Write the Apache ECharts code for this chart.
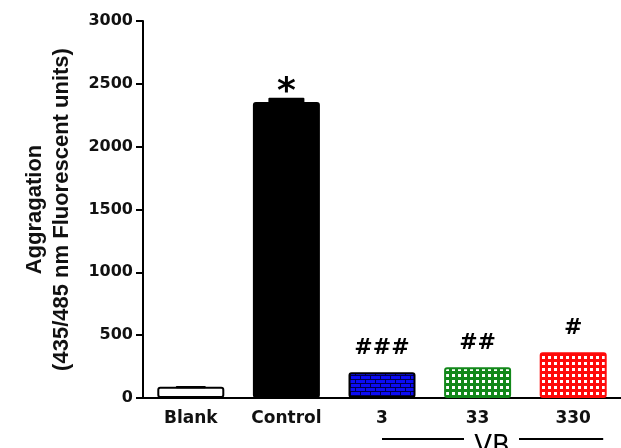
<!DOCTYPE html>
<html>
<head>
<meta charset="utf-8">
<script src="https://cdn.jsdelivr.net/npm/echarts@6/dist/echarts.min.js"></script>
<style>
html,body{margin:0;padding:0;background:#fff;}
#chart{width:621px;height:448px;}
</style>
</head>
<body>
<div id="chart"></div>
<script>
// ---- data ----
var categories = ['Blank', 'Control', '3', '33', '330'];
var values = [90, 2355, 204, 244, 364];
var errorTop = [103, 2390, 204, 244, 364];
var annotations = ['', '*', '###', '##', '#'];
var yTicks = [0, 500, 1000, 1500, 2000, 2500, 3000];
var groupLabel = 'VB';

// ---- patterns ----
function brick() {
  var c = document.createElement('canvas'); c.width = 10; c.height = 8;
  var g = c.getContext('2d');
  g.fillStyle = '#0c0cf5'; g.fillRect(0, 0, 10, 8);
  g.fillStyle = '#00004a';
  g.fillRect(0, 3, 10, 1); g.fillRect(0, 7, 10, 1);
  g.fillRect(0, 0, 1, 3); g.fillRect(5, 4, 1, 3);
  return c;
}
function checker(col) {
  var c = document.createElement('canvas'); c.width = 6; c.height = 6;
  var g = c.getContext('2d');
  g.fillStyle = col; g.fillRect(0, 0, 6, 6);
  g.fillStyle = '#ffffff'; g.fillRect(2, 2, 3, 3);
  return c;
}
var styles = [
  {color: '#ffffff', borderColor: '#000000', borderWidth: 2},
  {color: '#000000', borderColor: '#000000', borderWidth: 2},
  {color: {image: brick(), repeat: 'repeat'}, borderColor: '#000000', borderWidth: 2},
  {color: {image: checker('#12881a'), repeat: 'repeat'}, borderColor: '#12881a', borderWidth: 2},
  {color: {image: checker('#ff0a0a'), repeat: 'repeat'}, borderColor: '#ff0a0a', borderWidth: 2}
];

var chart = echarts.init(document.getElementById('chart'));
var tickFont = 'DejaVu Sans';
chart.setOption({
  animation: false,
  backgroundColor: '#ffffff',
  grid: {left: 143, top: 21, width: 483, bottom: 50},
  xAxis: {
    type: 'category', data: categories,
    axisLine: {lineStyle: {color: '#000', width: 2}},
    axisTick: {alignWithLabel: true, length: 6, lineStyle: {color: '#000', width: 2}},
    axisLabel: {color: '#111', fontFamily: tickFont, fontWeight: 'bold', fontSize: 17, margin: 12}
  },
  yAxis: {
    type: 'value', min: 0, max: 3000, interval: 500,
    axisLine: {show: true, lineStyle: {color: '#000', width: 2}},
    axisTick: {show: true, length: 7, lineStyle: {color: '#000', width: 2}},
    splitLine: {show: false},
    axisLabel: {color: '#111', fontFamily: tickFont, fontWeight: 'bold', fontSize: 16, margin: 10,
      formatter: function (v) { return yTicks.indexOf(v) >= 0 ? String(v) : ''; }},
    name: 'Aggragation\n(435/485 nm Fluorescent units)',
    nameLocation: 'middle', nameRotate: 90, nameGap: 68,
    nameTextStyle: {color: '#111', fontFamily: 'Liberation Sans', fontWeight: 'bold', fontSize: 22, lineHeight: 27}
  },
  series: [{
    type: 'bar', barWidth: 67,
    data: values.map(function (v, i) { return {value: v, itemStyle: Object.assign({borderRadius: 2}, styles[i])}; }),
    z: 2
  }, {
    type: 'custom', z: 3,
    data: values.map(function (v, i) { return [i, v, errorTop[i]]; }),
    renderItem: function (params, api) {
      var i = api.value(0);
      var base = api.coord([i, api.value(1)]);
      var top = api.coord([i, api.value(2)]);
      var kids = [];
      var h = base[1] - top[1];
      if (h > 0.5) {
        var w = i === 0 ? 30 : 36;
        var extra = i === 0 ? 0.5 : 5;
        kids.push({type: 'rect', shape: {x: top[0] - w / 2, y: top[1] + (i === 0 ? 1 : 0), width: w, height: h + extra, r: 1},
          style: {fill: '#000'}});
      }
      var t = annotations[i];
      if (t) {
        var isStar = t === '*';
        kids.push({type: 'text', style: {
          text: t, x: top[0], y: top[1] + (isStar ? 13 : -24),
          align: 'center', verticalAlign: isStar ? 'bottom' : 'middle',
          font: 'bold ' + (isStar ? 36 : 22) + 'px "DejaVu Sans"', fill: '#000'}});
      }
      return {type: 'group', children: kids};
    }
  }]
});

// group bracket under the last three categories
var x0 = chart.convertToPixel({xAxisIndex: 0}, categories[2]);
var x1 = chart.convertToPixel({xAxisIndex: 0}, categories[4]);
var yb = 439;
chart.setOption({
  graphic: [
    {type: 'line', shape: {x1: x0, y1: yb, x2: x0 + 82, y2: yb}, style: {stroke: '#000', lineWidth: 2}},
    {type: 'line', shape: {x1: x0 + 137, y1: yb, x2: x1 + 30, y2: yb}, style: {stroke: '#000', lineWidth: 2}},
    {type: 'text', style: {text: groupLabel, x: x0 + 110, y: 434, align: 'center', verticalAlign: 'top',
      font: '26px "DejaVu Sans"', fill: '#000'}}
  ]
});
</script>
</body>
</html>
